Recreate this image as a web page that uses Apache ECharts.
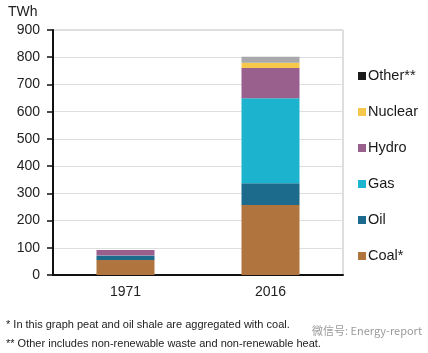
<!DOCTYPE html>
<html>
<head>
<meta charset="utf-8">
<script src="https://cdn.jsdelivr.net/npm/echarts@6/dist/echarts.min.js"></script>
<style>
html,body{margin:0;padding:0;background:#fff;}
#main{width:428px;height:353px;}
</style>
</head>
<body>
<div id="main"></div>
<script>
var years = ['1971', '2016'];
var coal = [55, 257];
var oil = [16, 80];
var gas = [1, 312];
var hydro = [20, 111];
var nuclear = [0, 20];
var other = [0, 22];
var yTicks = [0, 100, 200, 300, 400, 500, 600, 700, 800, 900];

function initChart(){
    var font = '"Liberation Sans", Arial, sans-serif';
    var colors = {
        'Coal*': '#b0743f',
        'Oil': '#1d6b8c',
        'Gas': '#1cb3cf',
        'Hydro': '#99608e',
        'Nuclear': '#f5c84a',
        'Other**': '#a9a9ab'
    };
    var names = ['Coal*', 'Oil', 'Gas', 'Hydro', 'Nuclear', 'Other**'];
    var values = [coal, oil, gas, hydro, nuclear, other];
    var series = [];
    for(var i = 0;i < names.length;i++){
        series.push({
            name: names[i],
            type: 'bar',
            stack: 'total',
            barWidth: '40%',
            itemStyle: { color: colors[names[i]] },
            data: values[i]
        });
    }
    // legend runs top-down from Other to Coal, Other shown with a black swatch
    var legendData = [];
    for(var j = names.length - 1;j >= 0;j--){
        var item = { name: names[j] };
        if(names[j] == 'Other**'){
            item.itemStyle = { color: '#1a1a1a' };
        }
        legendData.push(item);
    }
    var option = {
        animation: false,
        textStyle: { fontFamily: font },
        grid: {
            left: 53,
            right: 85,
            top: 30,
            bottom: 78,
            show: true,
            borderColor: '#bdbdbd',
            borderWidth: 1
        },
        legend: {
            orient: 'vertical',
            left: 353,
            top: 63,
            icon: 'rect',
            itemWidth: 8,
            itemHeight: 8,
            itemGap: 20,
            textStyle: {
                color: '#1a1a1a',
                fontSize: 14.5,
                lineHeight: 16,
                padding: [0, 0, 0, -3]
            },
            data: legendData
        },
        xAxis: {
            type: 'category',
            data: years,
            axisLine: { lineStyle: { color: '#111', width: 2 } },
            axisTick: { show: false },
            axisLabel: { color: '#222', fontSize: 14, margin: 10 }
        },
        yAxis: {
            type: 'value',
            min: 0,
            max: yTicks[yTicks.length - 1],
            interval: 100,
            axisLine: { show: true, lineStyle: { color: '#111', width: 2 } },
            axisTick: { show: true, length: 6, lineStyle: { color: '#111', width: 1.5 } },
            axisLabel: { color: '#222', fontSize: 14, margin: 13 },
            splitLine: { lineStyle: { color: '#dedede', width: 1 } }
        },
        graphic: [
            {
                type: 'text', left: 8, top: 5,
                style: { text: 'TWh', fill: '#222', font: '14px ' + font }
            },
            {
                type: 'text', left: 6, top: 319,
                style: { text: '* In this graph peat and oil shale are aggregated with coal.', fill: '#222', font: '11px ' + font }
            },
            {
                type: 'text', left: 6, top: 338,
                style: { text: '** Other includes non-renewable waste and non-renewable heat.', fill: '#222', font: '11px ' + font }
            },
            {
                type: 'text', left: 312, top: 325,
                style: { text: '微信号: Energy-report', fill: '#9a9a9a', font: '11px "Noto Sans CJK SC", sans-serif' }
            }
        ],
        series: series
    };
    var dom = document.getElementById('main');
    var myChart = echarts.init(dom);
    myChart.setOption(option, true);
}
initChart();
</script>
</body>
</html>
